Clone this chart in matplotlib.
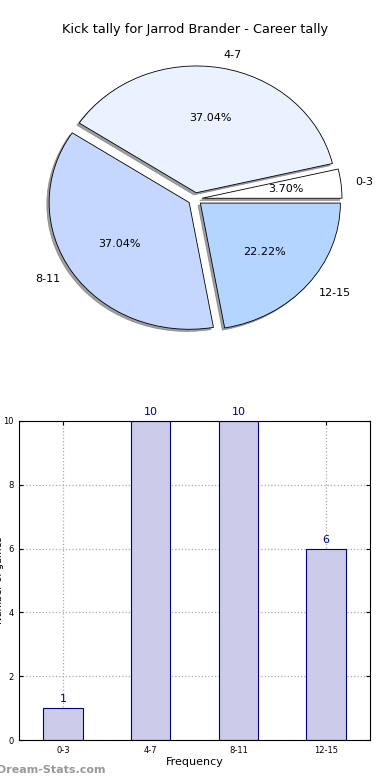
import matplotlib
matplotlib.use("Agg")
import matplotlib.pyplot as plt

title = "Kick tally for Jarrod Brander - Career tally"
categories = ["0-3", "4-7", "8-11", "12-15"]
counts = [1, 10, 10, 6]
pie_colors = ["#ffffff", "#eaf1ff", "#c5d7ff", "#b3d5ff"]
bar_color = "#ccccea"
edge_color = "#000080"
x_label = "Frequency"
y_label = "Number of games"
watermark = "Dream-Stats.com"

W, H = 390, 780
fig = plt.figure(figsize=(W / 100, H / 100), dpi=100)

def ax_px(l, t, r, b):
    return fig.add_axes([l / W, 1 - b / H, (r - l) / W, (b - t) / H])

# ---- Pie ----
axp = ax_px(20, 40.5, 370, 357.5)
wedges, texts, autotexts = axp.pie(
    counts, labels=categories, colors=pie_colors, autopct="%1.2f%%",
    explode=[0.05] * len(counts),
    shadow=dict(ox=-0.012, oy=-0.012, facecolor="#777777",
                edgecolor="#777777", alpha=0.7),
    startangle=0,
    wedgeprops=dict(edgecolor="black", linewidth=0.6),
    textprops=dict(fontsize=8),
)
axp.set_aspect("auto")
axp.set_xlim(-1.25, 1.25)
axp.set_ylim(-1.25, 1.25)
fig.text(195 / W, 1 - 30 / H, title, ha="center", va="center", fontsize=9.3)

# ---- Bars ----
axb = ax_px(19, 421, 370, 740)
xs = list(range(len(categories)))
bars = axb.bar(xs, counts, width=0.45, color=bar_color, edgecolor=edge_color,
               linewidth=0.8, zorder=2)
for x, v in zip(xs, counts):
    axb.text(x, v + 0.12, str(v), ha="center", va="bottom", color=edge_color,
             fontsize=8)
axb.set_xlim(-0.5, len(categories) - 0.5)
axb.set_ylim(0, 10)
axb.set_xticks(xs)
axb.set_xticklabels(categories)
axb.set_yticks(range(0, 11, 2))
axb.tick_params(labelsize=6, direction="in", length=3, top=True, right=True,
                pad=4)
axb.grid(True, linestyle=":", color="#aaaaaa", linewidth=0.9, zorder=0)
axb.set_axisbelow(True)
axb.set_xlabel(x_label, fontsize=8, labelpad=2)
for s in axb.spines.values():
    s.set_linewidth(0.8)

fig.text(-1 / W, 1 - 580 / H, y_label, rotation=90, ha="center", va="center",
         fontsize=7)
fig.text(-3 / W, 1 - 770 / H, watermark, ha="left", va="center", fontsize=8,
         color="#999999", fontweight="bold")

fig.savefig("out.png", dpi=100)
